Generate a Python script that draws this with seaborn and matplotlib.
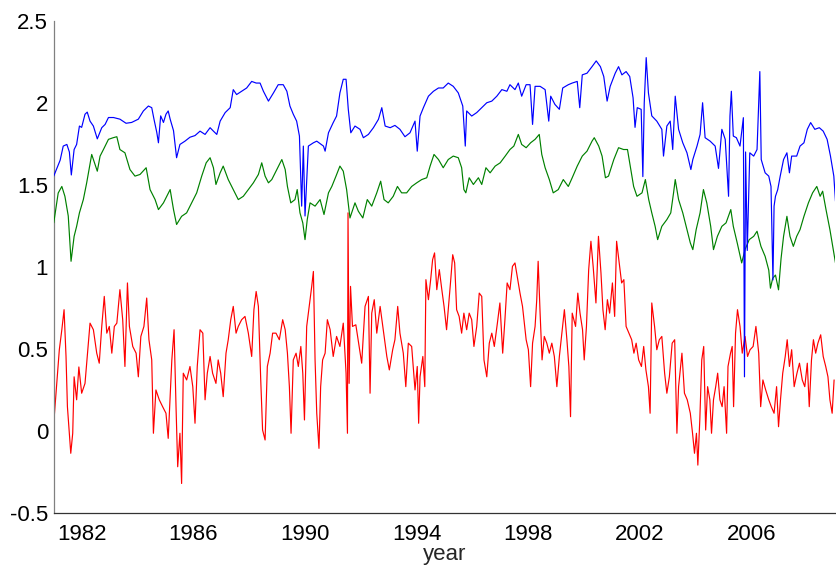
import matplotlib
matplotlib.use('Agg')

import matplotlib.pyplot as plt
import seaborn as sns
import pandas as pd

# serie azul
blue_year = [1981.00, 1981.23, 1981.34, 1981.47, 1981.56, 1981.63, 1981.73, 1981.82, 1981.92, 1982.00,
             1982.12, 1982.20, 1982.30, 1982.42, 1982.56, 1982.72, 1982.84, 1982.96, 1983.14, 1983.37,
             1983.59, 1983.79, 1984.03, 1984.21, 1984.39, 1984.51, 1984.59, 1984.69, 1984.75, 1984.83,
             1984.93, 1985.02, 1985.10, 1985.17, 1985.29, 1985.40, 1985.52, 1985.70, 1985.88, 1986.06,
             1986.24, 1986.42, 1986.60, 1986.72, 1986.84, 1986.96, 1987.14, 1987.32, 1987.43, 1987.55,
             1987.73, 1987.91, 1988.09, 1988.25, 1988.39, 1988.51, 1988.69, 1988.87, 1989.04, 1989.22,
             1989.35, 1989.46, 1989.58, 1989.70, 1989.80, 1989.88, 1989.94, 1990.00, 1990.12, 1990.30,
             1990.42, 1990.66, 1990.72, 1990.84, 1991.01, 1991.13, 1991.25, 1991.37, 1991.47, 1991.55,
             1991.64, 1991.79, 1991.97, 1992.09, 1992.27, 1992.45, 1992.63, 1992.75, 1992.87, 1993.05,
             1993.22, 1993.40, 1993.58, 1993.76, 1993.94, 1994.02, 1994.12, 1994.24, 1994.42, 1994.60,
             1994.78, 1994.95, 1995.13, 1995.31, 1995.49, 1995.65, 1995.74, 1995.79, 1995.97, 1996.15,
             1996.33, 1996.51, 1996.69, 1996.87, 1997.05, 1997.23, 1997.34, 1997.52, 1997.64, 1997.76,
             1997.92, 1998.06, 1998.15, 1998.24, 1998.42, 1998.60, 1998.73, 1998.80, 1998.95, 1999.11,
             1999.23, 1999.43, 1999.57, 1999.75, 1999.84, 1999.93, 2000.10, 2000.28, 2000.43, 2000.58,
             2000.70, 2000.82, 2000.93, 2001.11, 2001.23, 2001.35, 2001.50, 2001.63, 2001.75, 2001.82,
             2001.90, 2002.04, 2002.10, 2002.15, 2002.22, 2002.30, 2002.42, 2002.60, 2002.78, 2002.84,
             2002.96, 2003.08, 2003.17, 2003.26, 2003.38, 2003.53, 2003.68, 2003.82, 2003.89, 2004.04,
             2004.15, 2004.24, 2004.33, 2004.51, 2004.69, 2004.81, 2004.93, 2005.05, 2005.17, 2005.22,
             2005.27, 2005.34, 2005.45, 2005.58, 2005.70, 2005.74, 2005.78, 2005.84, 2005.93, 2006.07,
             2006.19, 2006.29, 2006.34, 2006.48, 2006.61, 2006.69, 2006.76, 2006.80, 2006.85, 2006.93,
             2007.02, 2007.14, 2007.26, 2007.35, 2007.43, 2007.61, 2007.73, 2007.87, 2007.99, 2008.11,
             2008.26, 2008.42, 2008.56, 2008.70, 2008.82, 2008.94, 2009.00]
blue_val = [1.553, 1.65, 1.736, 1.746, 1.70, 1.56, 1.715, 1.746, 1.858, 1.85,
            1.93, 1.943, 1.888, 1.858, 1.78, 1.848, 1.868, 1.91, 1.91, 1.90,
            1.875, 1.88, 1.90, 1.95, 1.98, 1.97, 1.90, 1.82, 1.756, 1.92,
            1.88, 1.93, 1.95, 1.90, 1.83, 1.665, 1.746, 1.766, 1.79, 1.80,
            1.827, 1.807, 1.848, 1.827, 1.807, 1.888, 1.94, 1.97, 2.08, 2.05,
            2.07, 2.09, 2.13, 2.12, 2.12, 2.07, 2.01, 2.06, 2.11, 2.11,
            2.07, 1.98, 1.93, 1.888, 1.797, 1.37, 1.736, 1.31, 1.736, 1.756,
            1.766, 1.736, 1.705, 1.817, 1.879, 1.919, 2.06, 2.143, 2.143, 1.96,
            1.817, 1.858, 1.838, 1.787, 1.807, 1.848, 1.899, 1.97, 1.858, 1.848,
            1.862, 1.838, 1.793, 1.817, 1.888, 1.705, 1.919, 1.97, 2.04, 2.07,
            2.09, 2.09, 2.12, 2.10, 2.06, 1.98, 1.736, 1.95, 1.919, 1.94,
            1.97, 2.00, 2.01, 2.04, 2.08, 2.07, 2.11, 2.08, 2.12, 2.04,
            2.11, 2.11, 1.868, 2.10, 2.10, 2.08, 1.888, 2.04, 1.99, 1.96,
            2.09, 2.11, 2.12, 2.13, 1.97, 2.17, 2.18, 2.22, 2.255, 2.22,
            2.16, 2.01, 2.10, 2.18, 2.22, 2.17, 2.19, 2.16, 2.03, 1.85,
            1.97, 1.96, 1.55, 2.00, 2.275, 2.06, 1.92, 1.888, 1.838, 1.675,
            1.858, 1.888, 1.715, 2.04, 1.838, 1.756, 1.695, 1.593, 1.654, 1.736,
            1.807, 2.00, 1.787, 1.766, 1.736, 1.60, 1.838, 1.777, 1.43, 1.919,
            2.07, 1.797, 1.787, 1.736, 1.909, 0.33, 1.70, 1.10, 1.695, 1.675,
            1.715, 2.19, 1.654, 1.573, 1.553, 1.49, 0.92, 1.37, 1.43, 1.47,
            1.553, 1.654, 1.695, 1.573, 1.675, 1.675, 1.736, 1.756, 1.838, 1.879,
            1.838, 1.848, 1.827, 1.777, 1.675, 1.553, 1.40]

# serie verde
green_year = [1981.00, 1981.16, 1981.29, 1981.40, 1981.52, 1981.62, 1981.73, 1981.82, 1981.92, 1982.06,
              1982.18, 1982.36, 1982.48, 1982.56, 1982.66, 1982.78, 1982.96, 1983.13, 1983.26, 1983.37,
              1983.55, 1983.73, 1983.91, 1984.09, 1984.31, 1984.45, 1984.63, 1984.75, 1984.93, 1985.05,
              1985.17, 1985.29, 1985.40, 1985.58, 1985.76, 1985.94, 1986.12, 1986.30, 1986.46, 1986.60,
              1986.72, 1986.81, 1986.96, 1987.07, 1987.25, 1987.43, 1987.61, 1987.79, 1987.97, 1988.15,
              1988.33, 1988.45, 1988.57, 1988.69, 1988.81, 1988.99, 1989.17, 1989.29, 1989.37, 1989.49,
              1989.64, 1989.72, 1989.82, 1989.92, 1990.00, 1990.08, 1990.18, 1990.36, 1990.54, 1990.68,
              1990.84, 1990.96, 1991.11, 1991.25, 1991.37, 1991.49, 1991.61, 1991.79, 1991.91, 1992.07,
              1992.23, 1992.39, 1992.57, 1992.71, 1992.83, 1992.98, 1993.16, 1993.31, 1993.46, 1993.64,
              1993.82, 1994.00, 1994.18, 1994.36, 1994.48, 1994.62, 1994.78, 1994.95, 1995.13, 1995.31,
              1995.49, 1995.61, 1995.69, 1995.76, 1995.88, 1996.03, 1996.21, 1996.33, 1996.48, 1996.63,
              1996.81, 1996.99, 1997.17, 1997.34, 1997.48, 1997.64, 1997.76, 1997.92, 1998.08, 1998.24,
              1998.39, 1998.48, 1998.60, 1998.75, 1998.89, 1999.07, 1999.25, 1999.43, 1999.57, 1999.75,
              1999.93, 2000.10, 2000.28, 2000.36, 2000.52, 2000.64, 2000.76, 2000.87, 2001.06, 2001.23,
              2001.41, 2001.55, 2001.67, 2001.77, 2001.89, 2002.07, 2002.19, 2002.31, 2002.42, 2002.54,
              2002.63, 2002.78, 2002.96, 2003.10, 2003.20, 2003.26, 2003.38, 2003.53, 2003.68, 2003.80,
              2003.89, 2004.01, 2004.15, 2004.27, 2004.39, 2004.53, 2004.63, 2004.77, 2004.93, 2005.08,
              2005.25, 2005.34, 2005.48, 2005.64, 2005.76, 2005.91, 2006.07, 2006.19, 2006.33, 2006.48,
              2006.61, 2006.67, 2006.75, 2006.85, 2006.96, 2007.05, 2007.14, 2007.26, 2007.37, 2007.49,
              2007.61, 2007.73, 2007.87, 2008.03, 2008.18, 2008.33, 2008.45, 2008.54, 2008.66, 2008.80,
              2008.92, 2009.00]
green_val = [1.268, 1.45, 1.49, 1.43, 1.31, 1.034, 1.186, 1.247, 1.329, 1.41,
             1.512, 1.685, 1.624, 1.583, 1.675, 1.715, 1.777, 1.787, 1.793, 1.715,
             1.695, 1.593, 1.553, 1.563, 1.604, 1.471, 1.41, 1.349, 1.39, 1.43,
             1.471, 1.349, 1.258, 1.308, 1.329, 1.39, 1.451, 1.553, 1.634, 1.665,
             1.604, 1.502, 1.573, 1.614, 1.532, 1.471, 1.41, 1.43, 1.471, 1.512,
             1.563, 1.634, 1.553, 1.512, 1.532, 1.593, 1.654, 1.593, 1.49, 1.39,
             1.41, 1.471, 1.329, 1.268, 1.166, 1.288, 1.39, 1.37, 1.41, 1.319,
             1.451, 1.49, 1.553, 1.614, 1.583, 1.471, 1.298, 1.39, 1.339, 1.298,
             1.41, 1.37, 1.451, 1.522, 1.41, 1.39, 1.43, 1.49, 1.451, 1.451,
             1.49, 1.512, 1.532, 1.543, 1.614, 1.685, 1.654, 1.604, 1.654, 1.675,
             1.665, 1.604, 1.471, 1.451, 1.543, 1.502, 1.543, 1.502, 1.604, 1.573,
             1.614, 1.634, 1.675, 1.715, 1.736, 1.807, 1.746, 1.726, 1.756, 1.777,
             1.807, 1.685, 1.604, 1.532, 1.451, 1.471, 1.532, 1.49, 1.543, 1.614,
             1.675, 1.705, 1.766, 1.787, 1.736, 1.675, 1.543, 1.553, 1.654, 1.726,
             1.715, 1.715, 1.593, 1.49, 1.43, 1.451, 1.532, 1.41, 1.329, 1.247,
             1.166, 1.247, 1.288, 1.329, 1.451, 1.532, 1.41, 1.329, 1.227, 1.146,
             1.105, 1.227, 1.329, 1.471, 1.39, 1.247, 1.105, 1.186, 1.247, 1.268,
             1.349, 1.247, 1.146, 1.024, 1.105, 1.166, 1.186, 1.217, 1.125, 1.064,
             0.98, 0.87, 0.93, 0.95, 0.86, 1.05, 1.186, 1.308, 1.186, 1.125,
             1.186, 1.227, 1.308, 1.39, 1.451, 1.49, 1.43, 1.461, 1.349, 1.227,
             1.105, 1.024]

# serie roja
red_year = [1981.00, 1981.10, 1981.20, 1981.29, 1981.37, 1981.44, 1981.49, 1981.56, 1981.61, 1981.68,
            1981.73, 1981.82, 1981.90, 1982.00, 1982.12, 1982.20, 1982.30, 1982.42, 1982.54, 1982.63,
            1982.72, 1982.81, 1982.90, 1982.99, 1983.08, 1983.17, 1983.26, 1983.37, 1983.47, 1983.55,
            1983.64, 1983.71, 1983.83, 1983.95, 1984.03, 1984.12, 1984.23, 1984.33, 1984.41, 1984.51,
            1984.57, 1984.66, 1984.78, 1984.90, 1985.02, 1985.10, 1985.23, 1985.31, 1985.38, 1985.44,
            1985.52, 1985.58, 1985.64, 1985.76, 1985.88, 1985.98, 1986.06, 1986.14, 1986.24, 1986.34,
            1986.42, 1986.50, 1986.60, 1986.69, 1986.81, 1986.89, 1986.98, 1987.07, 1987.17, 1987.25,
            1987.34, 1987.43, 1987.53, 1987.61, 1987.73, 1987.85, 1987.97, 1988.09, 1988.17, 1988.25,
            1988.33, 1988.41, 1988.48, 1988.57, 1988.65, 1988.75, 1988.84, 1988.96, 1989.08, 1989.20,
            1989.29, 1989.37, 1989.44, 1989.50, 1989.58, 1989.68, 1989.76, 1989.85, 1989.92, 1989.98,
            1990.06, 1990.15, 1990.24, 1990.30, 1990.36, 1990.42, 1990.50, 1990.56, 1990.63, 1990.72,
            1990.80, 1990.90, 1991.01, 1991.13, 1991.25, 1991.37, 1991.47, 1991.52, 1991.54, 1991.58,
            1991.63, 1991.70, 1991.82, 1991.94, 1992.03, 1992.15, 1992.27, 1992.33, 1992.39, 1992.48,
            1992.57, 1992.69, 1992.80, 1992.93, 1993.02, 1993.14, 1993.22, 1993.32, 1993.40, 1993.52,
            1993.61, 1993.70, 1993.82, 1993.94, 1994.02, 1994.07, 1994.12, 1994.22, 1994.29, 1994.33,
            1994.42, 1994.50, 1994.57, 1994.64, 1994.72, 1994.81, 1994.90, 1994.98, 1995.07, 1995.14,
            1995.21, 1995.29, 1995.36, 1995.43, 1995.52, 1995.61, 1995.69, 1995.79, 1995.88, 1995.97,
            1996.05, 1996.15, 1996.24, 1996.33, 1996.41, 1996.51, 1996.60, 1996.69, 1996.78, 1996.89,
            1996.98, 1997.08, 1997.16, 1997.24, 1997.34, 1997.43, 1997.52, 1997.60, 1997.70, 1997.79,
            1997.92, 1998.00, 1998.08, 1998.15, 1998.24, 1998.30, 1998.35, 1998.42, 1998.49, 1998.57,
            1998.66, 1998.75, 1998.84, 1998.93, 1999.02, 1999.11, 1999.20, 1999.29, 1999.38, 1999.45,
            1999.51, 1999.57, 1999.69, 1999.77, 1999.85, 1999.94, 2000.00, 2000.08, 2000.16, 2000.24,
            2000.32, 2000.42, 2000.51, 2000.60, 2000.67, 2000.75, 2000.83, 2000.91, 2001.01, 2001.09,
            2001.16, 2001.24, 2001.34, 2001.42, 2001.50, 2001.60, 2001.70, 2001.78, 2001.86, 2001.95,
            2002.05, 2002.13, 2002.21, 2002.30, 2002.36, 2002.42, 2002.52, 2002.60, 2002.69, 2002.78,
            2002.88, 2002.96, 2003.05, 2003.15, 2003.24, 2003.32, 2003.38, 2003.50, 2003.59, 2003.69,
            2003.80, 2003.88, 2003.95, 2004.02, 2004.07, 2004.14, 2004.21, 2004.28, 2004.35, 2004.42,
            2004.50, 2004.56, 2004.63, 2004.71, 2004.78, 2004.86, 2004.94, 2005.01, 2005.10, 2005.15,
            2005.24, 2005.30, 2005.35, 2005.42, 2005.49, 2005.58, 2005.66, 2005.76, 2005.85, 2005.94,
            2006.05, 2006.15, 2006.25, 2006.32, 2006.40, 2006.50, 2006.61, 2006.70, 2006.80, 2006.89,
            2006.96, 2007.03, 2007.11, 2007.20, 2007.27, 2007.35, 2007.43, 2007.52, 2007.62, 2007.71,
            2007.81, 2007.90, 2007.99, 2008.06, 2008.14, 2008.21, 2008.29, 2008.37, 2008.47, 2008.56,
            2008.65, 2008.73, 2008.80, 2008.88, 2008.95]
red_val = [0.047, 0.27, 0.495, 0.617, 0.739, 0.454, 0.148, -0.014, -0.136, -0.014,
           0.33, 0.19, 0.39, 0.23, 0.29, 0.454, 0.657, 0.617, 0.474, 0.413,
           0.637, 0.82, 0.596, 0.637, 0.474, 0.637, 0.657, 0.861, 0.678, 0.393,
           0.902, 0.637, 0.515, 0.474, 0.33, 0.576, 0.637, 0.81, 0.556, 0.433,
           -0.014, 0.25, 0.19, 0.148, 0.108, -0.045, 0.433, 0.617, 0.148, -0.218,
           -0.014, -0.32, 0.352, 0.311, 0.393, 0.27, 0.047, 0.393, 0.617, 0.596,
           0.19, 0.352, 0.454, 0.352, 0.29, 0.433, 0.352, 0.209, 0.474, 0.556,
           0.678, 0.759, 0.596, 0.637, 0.678, 0.698, 0.596, 0.454, 0.739, 0.85,
           0.759, 0.33, 0.006, -0.055, 0.393, 0.474, 0.596, 0.596, 0.556, 0.678,
           0.617, 0.474, 0.27, -0.014, 0.433, 0.474, 0.393, 0.515, 0.352, 0.067,
           0.637, 0.759, 0.881, 0.972, 0.433, 0.108, -0.106, 0.27, 0.433, 0.474,
           0.678, 0.617, 0.454, 0.576, 0.515, 0.657, 0.352, -0.014, 1.329, 0.29,
           0.881, 0.637, 0.647, 0.515, 0.413, 0.759, 0.82, 0.23, 0.718, 0.80,
           0.596, 0.759, 0.617, 0.454, 0.372, 0.495, 0.556, 0.759, 0.596, 0.474,
           0.27, 0.535, 0.515, 0.25, 0.393, 0.047, 0.33, 0.454, 0.27, 0.922,
           0.80, 0.922, 1.044, 1.085, 0.861, 0.983, 0.861, 0.759, 0.617, 0.759,
           0.902, 1.074, 1.024, 0.739, 0.698, 0.596, 0.718, 0.617, 0.718, 0.678,
           0.515, 0.637, 0.84, 0.82, 0.433, 0.33, 0.535, 0.596, 0.515, 0.657,
           0.78, 0.474, 0.678, 0.902, 0.861, 1.003, 1.024, 0.942, 0.84, 0.759,
           0.556, 0.495, 0.27, 0.535, 0.637, 0.80, 1.034, 0.718, 0.433, 0.576,
           0.535, 0.474, 0.535, 0.454, 0.27, 0.454, 0.596, 0.739, 0.556, 0.393,
           0.087, 0.718, 0.637, 0.84, 0.718, 0.617, 0.433, 0.637, 0.983, 1.156,
           1.003, 0.78, 1.186, 0.963, 0.739, 0.617, 0.80, 0.718, 0.902, 0.698,
           1.156, 1.044, 0.902, 0.922, 0.637, 0.596, 0.556, 0.474, 0.535, 0.433,
           0.393, 0.515, 0.372, 0.27, 0.108, 0.78, 0.637, 0.495, 0.556, 0.576,
           0.352, 0.23, 0.33, 0.535, 0.556, -0.014, 0.27, 0.474, 0.23, 0.19,
           0.108, -0.014, -0.136, -0.014, -0.208, 0.067, 0.433, 0.515, 0.006, 0.27,
           0.19, -0.014, 0.19, 0.27, 0.352, 0.19, 0.148, 0.27, -0.014, 0.393,
           0.474, 0.515, 0.148, 0.596, 0.739, 0.637, 0.474, 0.576, 0.454, 0.495,
           0.515, 0.637, 0.474, 0.148, 0.311, 0.25, 0.19, 0.148, 0.108, 0.27,
           0.026, 0.19, 0.352, 0.454, 0.556, 0.393, 0.495, 0.27, 0.352, 0.413,
           0.311, 0.27, 0.413, 0.148, 0.433, 0.556, 0.474, 0.535, 0.586, 0.454,
           0.393, 0.33, 0.19, 0.108, 0.311]

x_ticks = [1982, 1986, 1990, 1994, 1998, 2002, 2006]
y_ticks = [-0.5, 0, 0.5, 1, 1.5, 2, 2.5]
y_labels = ['-0.5', '0', '0.5', '1', '1.5', '2', '2.5']

sns.set_style('white')
plt.rcParams['font.family'] = ['Liberation Sans', 'DejaVu Sans']

fig = plt.figure(figsize=(8.37, 5.67), dpi=100)
ax = fig.add_axes([0.0642, 0.0952, 0.934, 0.8683])

sns.lineplot(x=red_year, y=red_val, color='#ff0000', lw=0.85, estimator=None, ax=ax, zorder=2)
sns.lineplot(x=green_year, y=green_val, color='#008000', lw=0.85, estimator=None, ax=ax, zorder=3)
sns.lineplot(x=blue_year, y=blue_val, color='#0000ff', lw=0.85, estimator=None, ax=ax, zorder=4)

ax.set_xlim(1981.0, 2009.0)
ax.set_ylim(-0.5, 2.5)
ax.set_xticks(x_ticks)
ax.set_xticklabels([str(t) for t in x_ticks])
ax.set_yticks(y_ticks)
ax.set_yticklabels(y_labels)
ax.tick_params(direction='in', length=5.5, width=0.8, labelsize=16,
               colors='#333333', labelcolor='black')
ax.tick_params(axis='x', pad=8)
ax.tick_params(axis='y', pad=4, colors='#808080', labelcolor='black')
ax.set_xlabel('year', fontsize=16, labelpad=-1)
ax.set_ylabel('')

sns.despine(ax=ax)
ax.spines['left'].set_color('#808080')
ax.spines['bottom'].set_color('#333333')
ax.spines['left'].set_linewidth(0.9)
ax.spines['bottom'].set_linewidth(0.9)

fig.savefig('out.png', dpi=100)
plt.close()
